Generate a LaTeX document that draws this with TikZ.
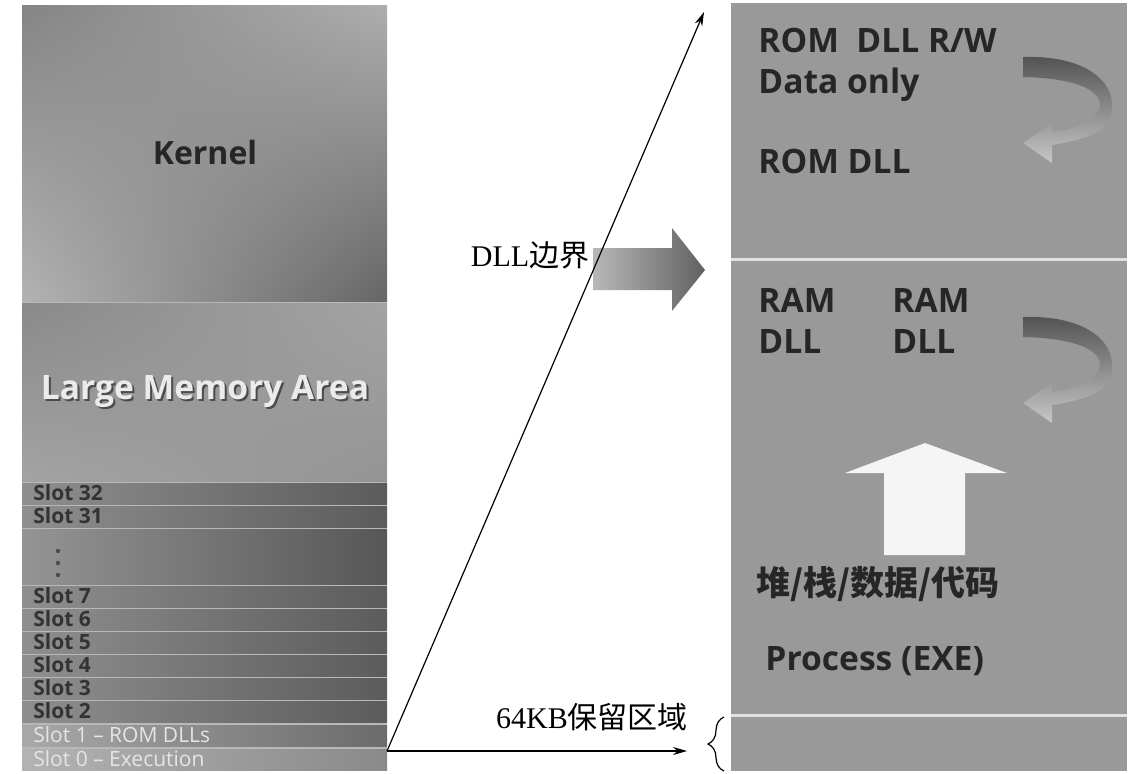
\documentclass[tikz,border=0pt]{standalone}
\usepackage{fontspec}
\setmainfont{Liberation Serif}
\newfontfamily\cjk{Noto Sans CJK SC}
\newfontfamily\uifont{Open Sans}
\usetikzlibrary{arrows.meta,positioning,calc,shadings,decorations.pathreplacing}

\begin{document}
\begin{tikzpicture}[x=0.5pt, y=-0.5pt,
      slotband/.style={left color=black!44, right color=black!64},
      slotlbl/.style={anchor=west, inner sep=0pt, text=black!80, font=\uifont\bfseries\fontsize{10.5}{12}\selectfont},
      panellbl/.style={anchor=base west, inner sep=0pt, text=black!85, font=\uifont\bfseries\fontsize{16.8}{19}\selectfont},
      caption/.style={inner sep=0pt, font=\fontsize{15}{17}\selectfont},
      sepline/.style={draw=black!12, line width=1.5pt},
      arr/.style={-{Stealth[length=7pt, width=4pt]}, semithick}]
    \useasboundingbox (0,0) rectangle (1130,773);
    % left column: memory map
    \fill[black!28] (22,5) rectangle (387,770);
    \shade[upper left=black!48, upper right=black!32, lower left=black!30, lower right=black!60] (22,5) rectangle (387,301);
    \shade[upper left=black!46, upper right=black!36, lower left=black!36, lower right=black!42] (22,303) rectangle (387,481);
    \node[inner sep=0pt, text=black!85, font=\uifont\bfseries\fontsize{16}{19}\selectfont] (kernel) at (205,152) {Kernel};
    \node[inner sep=0pt, text=black!70, font=\uifont\bfseries\fontsize{16.8}{19}\selectfont] (lmashadow) at (207,393) {Large Memory Area};
    \node[inner sep=0pt, text=white!92!black, font=\uifont\bfseries\fontsize{16.8}{19}\selectfont] (lma) at (205,391) {Large Memory Area};
    \foreach \n/\top in {32/483, 31/506} {
      \shade[slotband] (22,\top) rectangle (387,\top+21);
      \node[slotlbl] (slot\n) at (33,\top+10) {Slot \n};
    }
    \shade[left color=black!42, right color=black!66] (22,529) rectangle (387,584);
    \foreach \d in {551,563,575}
      \fill[black!70] (58,\d) circle (1.1pt);
    \foreach \n in {7,...,2} {
      \pgfmathsetmacro{\top}{586+(7-\n)*23}
      \shade[slotband] (22,\top) rectangle (387,\top+21);
      \node[slotlbl] (slot\n) at (33,\top+10) {Slot \n};
    }
    \shade[left color=black!34, right color=black!58] (22,725) rectangle (387,746);
    \node[slotlbl, text=white!90!black, font=\uifont\fontsize{10.5}{12}\selectfont] (slot1) at (33,735) {Slot 1 – ROM DLLs};
    \shade[left color=black!30, right color=black!46] (22,749) rectangle (387,770);
    \node[slotlbl, text=white!90!black, font=\uifont\fontsize{10.5}{12}\selectfont] (slot0) at (33,759) {Slot 0 – Execution};
    % right column: process slot
    \fill[black!40] (731,3) rectangle (1127,771);
    \draw[sepline] (731,259) -- (1127,259);
    \draw[sepline] (731,715) -- (1127,715);
    \node[panellbl] (romrw) at (758,52) {ROM\ \ DLL R/W};
    \node[panellbl] (dataonly) at (758,93) {Data only};
    \node[panellbl] (romdll) at (758,173) {ROM DLL};
    \node[panellbl] (ramdlla) at (758,312) {RAM};
    \node[panellbl] (ramdllb) at (892,312) {RAM};
    \node[panellbl] (dlla) at (758,353) {DLL};
    \node[panellbl] (dllb) at (892,353) {DLL};
    \foreach \dy in {0,260} {
      \shade[top color=black!68, bottom color=black!22]
        (1023,57+\dy) .. controls (1080,55+\dy) and (1115,78+\dy) .. (1112,110+\dy)
        .. controls (1110,130+\dy) and (1090,139+\dy) .. (1052,145+\dy)
        -- (1052,163+\dy) -- (1023,143+\dy) -- (1052,123+\dy) -- (1052,132+\dy)
        .. controls (1082,128+\dy) and (1100,118+\dy) .. (1100,104+\dy)
        .. controls (1099,88+\dy) and (1070,78+\dy) .. (1023,77+\dy) -- cycle;
    }
    \fill[white!96!black] (925,443) -- (1007,473) -- (965,473) -- (965,555)
      -- (884,555) -- (884,473) -- (845,473) -- cycle;
    \node[anchor=west, inner sep=0pt, text=black!85, font=\cjk\bfseries\fontsize{17}{19}\selectfont] (heap) at (756,584) {堆/栈/数据/代码};
    \node[panellbl] (proc) at (765,670) {Process (EXE)};
    % DLL boundary arrow
    \shade[left color=black!28, right color=black!62] (593,248) -- (672,248) -- (672,228)
      -- (705,270) -- (672,311) -- (672,290) -- (593,290) -- cycle;
    \node[caption] (dllbd) at (530,255) {DLL{\cjk 边界}};
    % connectors
    \coordinate (fork) at (387,751);
    \coordinate (toptip) at (704,12);
    \coordinate (resv) at (687,751);
    \draw[arr] (fork) -- (toptip);
    \draw[arr] (fork) -- (resv);
    \node[caption] (resvlbl) at (592,717) {64KB{\cjk 保留区域}};
    \coordinate (brtop) at (724,717);
    \coordinate (brbot) at (724,771);
    \draw[decorate, decoration={brace, amplitude=8pt}, semithick] (brbot) -- (brtop);
  \end{tikzpicture}
\end{document}
